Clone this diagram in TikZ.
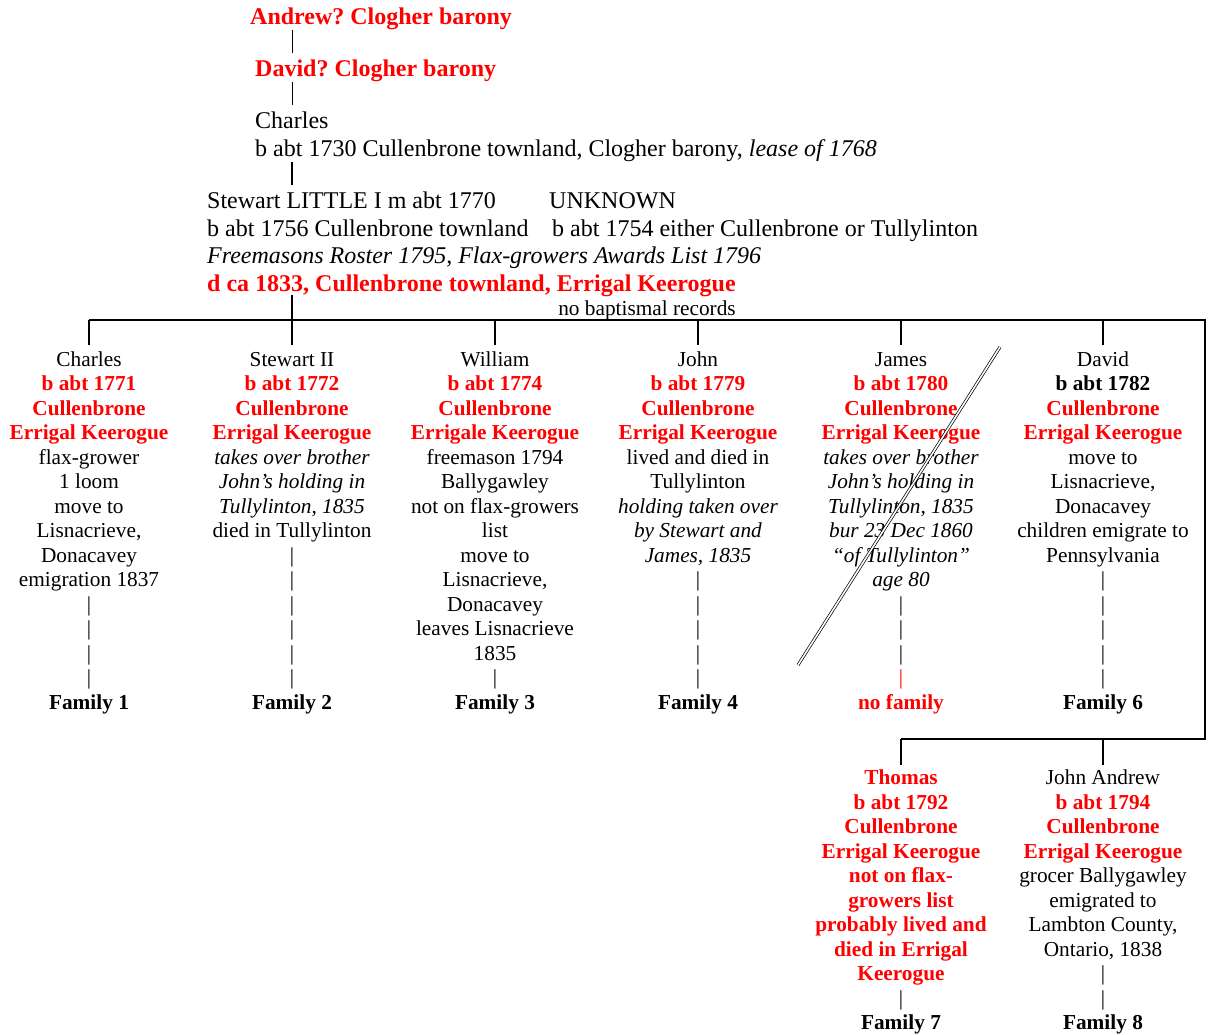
\documentclass[tikz,border=0pt]{standalone}
\usepackage{fontspec}
\setmainfont{Liberation Serif}
\newcommand\redb[1]{\textcolor{red}{\bfseries #1}}
\begin{document}
\frenchspacing
\begin{tikzpicture}[x=1pt,y=-1pt,
  big/.style={font=\fontsize{24}{28}\selectfont\frenchspacing, inner sep=0pt, anchor=base west},
  col/.style={font=\fontsize{21.3}{24.5}\selectfont\frenchspacing, inner sep=0pt, anchor=north, align=center},
  small/.style={font=\fontsize{21.3}{24.5}\selectfont, inner sep=0pt, anchor=base},
  conn/.style={line width=2pt, black},
  thinconn/.style={line width=1pt, black}]
\useasboundingbox (0,0) rectangle (1208,1035);

% top generations
\node[big] (andrew) at (250,25) {\redb{Andrew? Clogher barony}};
\node[big] (david) at (255,77) {\redb{David? Clogher barony}};
\node[big] (charles) at (255,129) {Charles};
\node[big] (charlesb) at (255,157) {b abt 1730 Cullenbrone townland, Clogher barony, \textit{lease of 1768}};
\node[big] (stewart) at (207,209) {Stewart LITTLE I m abt 1770};
\node[big] (unknown) at (549,209) {UNKNOWN};
\node[big] (stewartb) at (207,237) {b abt 1756 Cullenbrone townland};
\node[big] (unknownb) at (552,237) {b abt 1754 either Cullenbrone or Tullylinton};
\node[big] (stewartrec) at (207,264) {\textit{Freemasons Roster 1795, Flax-growers Awards List 1796}};
\node[big] (stewartd) at (207,291.5) {\redb{d ca 1833, Cullenbrone townland, Errigal Keerogue}};
\node[small] (nobapt) at (647,316) {no baptismal records};

\coordinate (sj) at (292,295);
\coordinate (busL) at (89,320);
\coordinate (busR) at (1205,320);
\coordinate (bus2R) at (1205,739);
\coordinate (bus2L) at (901,739);

\draw[thinconn] (sj |- 0,30) -- (sj |- 0,53);
\draw[thinconn] (sj |- 0,82) -- (sj |- 0,105);
\draw[conn] (sj |- 0,162) -- (sj |- 0,185);

% children
\node[col] (c1) at (89,348.85) {\strut Charles\\ \redb{b abt 1771}\\ \redb{Cullenbrone}\\ \redb{Errigal Keerogue}\\ flax-grower\\ 1 loom\\ move to\\ Lisnacrieve,\\ Donacavey\\ emigration 1837\\ |\\ |\\ |\\ |\\ \textbf{Family 1}};
\node[col] (c2) at (292,348.85) {\strut Stewart II\\ \redb{b abt 1772}\\ \redb{Cullenbrone}\\ \redb{Errigal Keerogue}\\ \textit{takes over brother}\\ \textit{John’s holding in}\\ \textit{Tullylinton, 1835}\\ died in Tullylinton\\ |\\ |\\ |\\ |\\ |\\ |\\ \textbf{Family 2}};
\node[col] (c3) at (495,348.85) {\strut William\\ \redb{b abt 1774}\\ \redb{Cullenbrone}\\ \redb{Errigale Keerogue}\\ freemason 1794\\ Ballygawley\\ not on flax-growers\\ list\\ move to\\ Lisnacrieve,\\ Donacavey\\ leaves Lisnacrieve\\ 1835\\ |\\ \textbf{Family 3}};
\node[col] (c4) at (698,348.85) {\strut John\\ \redb{b abt 1779}\\ \redb{Cullenbrone}\\ \redb{Errigal Keerogue}\\ lived and died in\\ Tullylinton\\ \textit{holding taken over}\\ \textit{by Stewart and}\\ \textit{James, 1835}\\ |\\ |\\ |\\ |\\ |\\ \textbf{Family 4}};
\node[col] (c5) at (901,348.85) {\strut James\\ \redb{b abt 1780}\\ \redb{Cullenbrone}\\ \redb{Errigal Keerogue}\\ \textit{takes over brother}\\ \textit{John’s holding in}\\ \textit{Tullylinton, 1835}\\ \textit{bur 23 Dec 1860}\\ \textit{“of Tullylinton”}\\ \textit{age 80}\\ |\\ |\\ |\\ \textcolor{red}{|}\\ \redb{no family}};
\node[col] (c6) at (1103,348.85) {\strut David\\ \textbf{b abt 1782}\\ \redb{Cullenbrone}\\ \redb{Errigal Keerogue}\\ move to\\ Lisnacrieve,\\ Donacavey\\ children emigrate to\\ Pennsylvania\\ |\\ |\\ |\\ |\\ |\\ \textbf{Family 6}};
\node[col] (c7) at (901,767.5) {\strut\redb{Thomas}\\ \redb{b abt 1792}\\ \redb{Cullenbrone}\\ \redb{Errigal Keerogue}\\ \redb{not on flax-}\\ \redb{growers list}\\ \redb{probably lived and}\\ \redb{died in Errigal}\\ \redb{Keerogue}\\ |\\ \textbf{Family 7}};
\node[col] (c8) at (1103,767.5) {\strut John Andrew\\ \redb{b abt 1794}\\ \redb{Cullenbrone}\\ \redb{Errigal Keerogue}\\ grocer Ballygawley\\ emigrated to\\ Lambton County,\\ Ontario, 1838\\ |\\ |\\ \textbf{Family 8}};

% connectors
\draw[conn] (sj) -- (sj |- busL);
\draw[conn] (busL) -- (busR) -- (bus2R) -- (bus2L);
\foreach \n in {c1,c2,c3,c4,c5,c6}
  \draw[conn] (\n.north |- busL) -- ([yshift=4pt]\n.north);
\foreach \n in {c7,c8}
  \draw[conn] (\n.north |- bus2L) -- ([yshift=2.5pt]\n.north);

% strike-through of James
\coordinate (strikeA) at (798,665);
\coordinate (strikeB) at (1000,347);
\draw[double, double distance=1.6pt, line width=0.7pt] (strikeA) -- (strikeB);
\end{tikzpicture}
\end{document}
